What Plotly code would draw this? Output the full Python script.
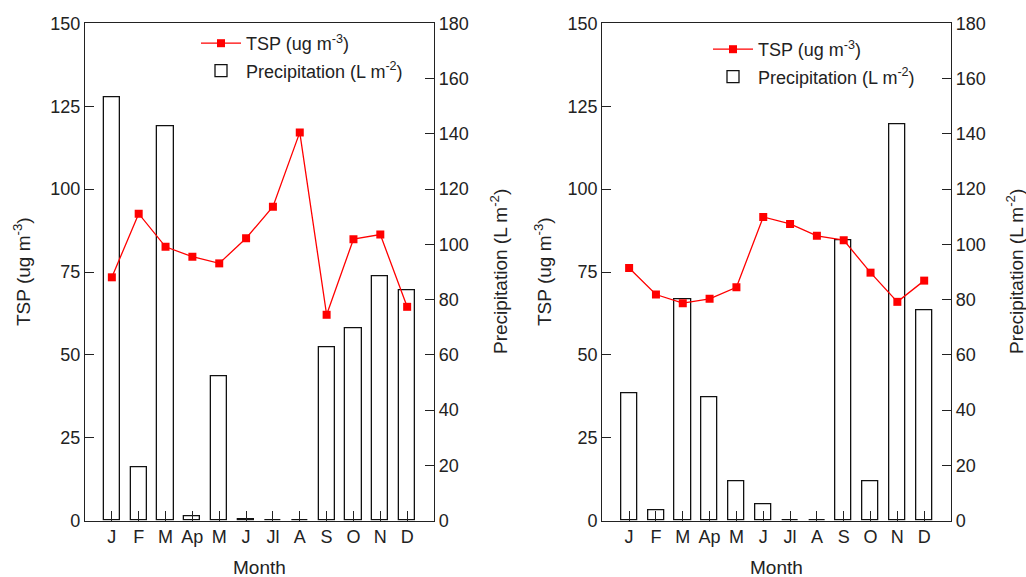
import plotly.graph_objects as go

months = ["J", "F", "M", "Ap", "M", "J", "Jl", "A", "S", "O", "N", "D"]
tsp_a = [73.4, 92.6, 82.6, 79.6, 77.6, 85.2, 94.7, 117.1, 62.1, 84.9, 86.3, 64.5]
precip_a = [153.2, 19.5, 142.6, 1.5, 52.1, 0.5, 0, 0.3, 62.8, 69.6, 88.6, 83.5]
tsp_b = [76.2, 68.2, 65.6, 66.9, 70.4, 91.6, 89.5, 85.9, 84.6, 74.8, 66.0, 72.4]
precip_b = [46.1, 3.9, 80.1, 44.7, 14.1, 6.0, 0, 0, 101.6, 14.4, 143.6, 76.1]
tsp_ticks = [0, 25, 50, 75, 100, 125, 150]
precip_ticks = [0, 20, 40, 60, 80, 100, 120, 140, 160, 180]

xpos = list(range(len(months)))
FONT = "Arial, Liberation Sans, sans-serif"
AX = "#222222"
TSP_NAME = "TSP (ug m<sup>-3</sup>)"
PR_NAME = "Precipitation (L m<sup>-2</sup>)"
FS = 18

fig = go.Figure()

panels = [
    (tsp_a, precip_a, "x", "y", "y2", "legend"),
    (tsp_b, precip_b, "x2", "y3", "y4", "legend2"),
]
for tsp, pr, xa, ya_pr, ya_tsp, leg in panels:
    fig.add_trace(go.Bar(
        x=xpos, y=pr, xaxis=xa, yaxis=ya_pr, name=PR_NAME, legend=leg,
        width=0.6, marker=dict(color="rgba(0,0,0,0)", line=dict(color="#111", width=1.3)),
        legendrank=2, legendgroup=leg + "b",
    ))
    fig.add_trace(go.Scatter(
        x=xpos, y=tsp, xaxis=xa, yaxis=ya_tsp, name=TSP_NAME, legend=leg,
        mode="lines+markers", line=dict(color="#ff0000", width=1.3),
        marker=dict(symbol="square", size=8, color="#ff0000"),
        legendrank=1, legendgroup=leg + "a",
    ))

ydom = [1 - 520.7 / 577, 1 - 23.3 / 577]
xdoms = [[85 / 1026, 434 / 1026], [602.3 / 1026, 951 / 1026]]

common_x = dict(showline=True, linecolor=AX, linewidth=1.3, mirror=True, showgrid=False,
                zeroline=False, ticks="inside", ticklen=10, tickcolor=AX, tickwidth=1.3,
                tickvals=xpos, ticktext=months, range=[-1, 12],
                tickfont=dict(family=FONT, size=FS, color=AX), automargin=False)
common_y = dict(showline=True, linecolor=AX, linewidth=1.3, showgrid=False, zeroline=False,
                ticks="inside", ticklen=9, tickcolor=AX, tickwidth=1.3,
                tickfont=dict(family=FONT, size=FS, color=AX), automargin=False,
                domain=ydom)

layout = dict(
    width=1026, height=577,
    margin=dict(l=0, r=0, t=0, b=0),
    paper_bgcolor="white", plot_bgcolor="white",
    font=dict(family=FONT, size=FS, color=AX),
    xaxis=dict(domain=xdoms[0], anchor="y", **common_x),
    xaxis2=dict(domain=xdoms[1], anchor="y3", **common_x),
    yaxis=dict(anchor="x", side="right", range=[0, 180], tickvals=precip_ticks, **common_y),
    yaxis2=dict(anchor="x", overlaying="y", side="left", range=[0, 150], tickvals=tsp_ticks, **common_y),
    yaxis3=dict(anchor="x2", side="right", range=[0, 180], tickvals=precip_ticks, **common_y),
    yaxis4=dict(anchor="x2", overlaying="y3", side="left", range=[0, 150], tickvals=tsp_ticks, **common_y),
    legend=dict(x=196 / 1026, y=1 - 25 / 577, xanchor="left", yanchor="top",
                bgcolor="rgba(0,0,0,0)", font=dict(family=FONT, size=FS, color=AX),
                tracegroupgap=1, itemwidth=40),
    legend2=dict(x=708 / 1026, y=1 - 31 / 577, xanchor="left", yanchor="top",
                 bgcolor="rgba(0,0,0,0)", font=dict(family=FONT, size=FS, color=AX),
                 tracegroupgap=1, itemwidth=40),
    showlegend=True,
    bargap=0,
)
fig.update_layout(**layout)

ann = []
for cx, (d0, d1) in zip([22, 543], xdoms):
    ann.append(dict(text="TSP (ug m<sup>-3</sup>)", x=cx / 1026, y=(ydom[0] + ydom[1]) / 2,
                    xref="paper", yref="paper", textangle=-90, showarrow=False,
                    xanchor="center", yanchor="middle", font=dict(family=FONT, size=FS + 1, color=AX)))
    ann.append(dict(text="Month", x=(d0 + d1) / 2, y=1 - 567 / 577,
                    xref="paper", yref="paper", showarrow=False,
                    xanchor="center", yanchor="middle", font=dict(family=FONT, size=FS + 1, color=AX)))
for cx in [499, 1015]:
    ann.append(dict(text="Precipitation (L m<sup>-2</sup>)", x=cx / 1026, y=(ydom[0] + ydom[1]) / 2,
                    xref="paper", yref="paper", textangle=-90, showarrow=False,
                    xanchor="center", yanchor="middle", font=dict(family=FONT, size=FS + 1, color=AX)))
fig.update_layout(annotations=ann)

fig.write_html("out.html", config={"displayModeBar": False},
               post_script="document.body.style.margin='0';document.body.style.overflow='hidden';")
